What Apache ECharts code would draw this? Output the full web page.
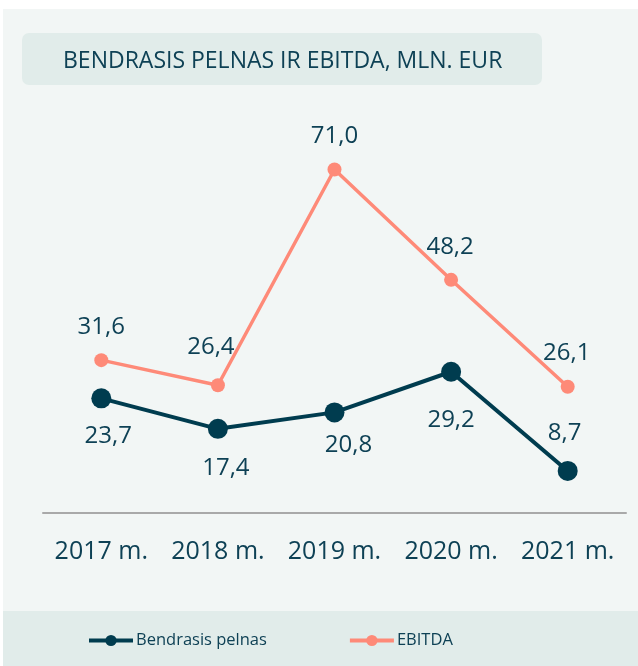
<!DOCTYPE html>
<html>
<head>
<meta charset="utf-8">
<script src="https://cdn.jsdelivr.net/npm/echarts@6/dist/echarts.min.js"></script>
<style>
  html, body { margin: 0; padding: 0; background: #fff; }
  #chart { width: 638px; height: 666px; }
</style>
</head>
<body>
<div id="chart"></div>
<script>
// duomenys
const years = ['2017 m.', '2018 m.', '2019 m.', '2020 m.', '2021 m.'];
const pelnas = [23.7, 17.4, 20.8, 29.2, 8.7];
const ebitda = [31.6, 26.4, 71.0, 48.2, 26.1];

// etikečių poslinkiai nuo taško centro
const pelnasOffsets = [[7, 38], [8, 39], [14, 33], [0, 48], [-3, -38]];
const ebitdaOffsets = [[0, -33], [-7, -38], [0, -33], [-1, -33], [-1, -34]];

const textColor = '#0e4155';
const darkColor = '#003c4f';
const salmon = '#fe8a78';
const font = '"Open Sans", sans-serif';

const fmt = (v) => v.toFixed(1).replace('.', ',');

function withLabels(values, offsets) {
    return values.map((v, i) => ({
        value: v,
        label: {offset: offsets[i]}
    }));
}

const chart = echarts.init(document.getElementById('chart'), null, {renderer: 'canvas'});

const option = {
    backgroundColor: '#ffffff',
    animation: false,
    textStyle: {fontFamily: font},
    graphic: [
        // fonas
        {type: 'rect', z: -10, shape: {x: 3, y: 9, width: 640, height: 660}, style: {fill: '#f2f6f5'}},
        // pavadinimo dėžutė
        {type: 'rect', z: -9, shape: {x: 22, y: 33, width: 520, height: 52, r: 7}, style: {fill: '#e1ecea'}},
        // legendos juosta
        {type: 'rect', z: -9, shape: {x: 3, y: 611, width: 640, height: 60}, style: {fill: '#e1ecea'}}
    ],
    title: {
        text: 'BENDRASIS PELNAS IR EBITDA, MLN. EUR',
        left: 58,
        top: 45,
        textStyle: {fontFamily: font, fontSize: 23, fontWeight: 'normal', color: textColor}
    },
    legend: {
        left: 87,
        top: 632,
        padding: 0,
        itemWidth: 44,
        itemHeight: 14,
        itemGap: 81,
        lineStyle: {width: 4},
        textStyle: {fontFamily: font, fontSize: 16.5, color: textColor, padding: [0, 0, 0, -2]},
        data: ['Bendrasis pelnas', 'EBITDA']
    },
    grid: {left: 43, right: 12, top: 126, bottom: 153, containLabel: false},
    xAxis: {
        type: 'category',
        data: years,
        axisLine: {lineStyle: {color: '#a9a9a9', width: 2}},
        axisTick: {show: false},
        axisLabel: {interval: 0, margin: 26, fontFamily: font, fontSize: 25, color: textColor}
    },
    yAxis: {
        type: 'value',
        min: 0,
        max: 80,
        show: false
    },
    series: [
        {
            name: 'EBITDA',
            type: 'line',
            data: withLabels(ebitda, ebitdaOffsets),
            symbol: 'circle',
            symbolSize: 14,
            lineStyle: {color: salmon, width: 3.5},
            itemStyle: {color: salmon},
            label: {
                show: true,
                position: 'inside',
                formatter: (p) => fmt(p.value),
                fontFamily: font,
                fontSize: 24,
                color: textColor
            }
        },
        {
            name: 'Bendrasis pelnas',
            type: 'line',
            data: withLabels(pelnas, pelnasOffsets),
            symbol: 'circle',
            symbolSize: 20,
            lineStyle: {color: darkColor, width: 4},
            itemStyle: {color: darkColor},
            label: {
                show: true,
                position: 'inside',
                formatter: (p) => fmt(p.value),
                fontFamily: font,
                fontSize: 24,
                color: textColor
            }
        }
    ]
};

chart.setOption(option);
</script>
</body>
</html>
